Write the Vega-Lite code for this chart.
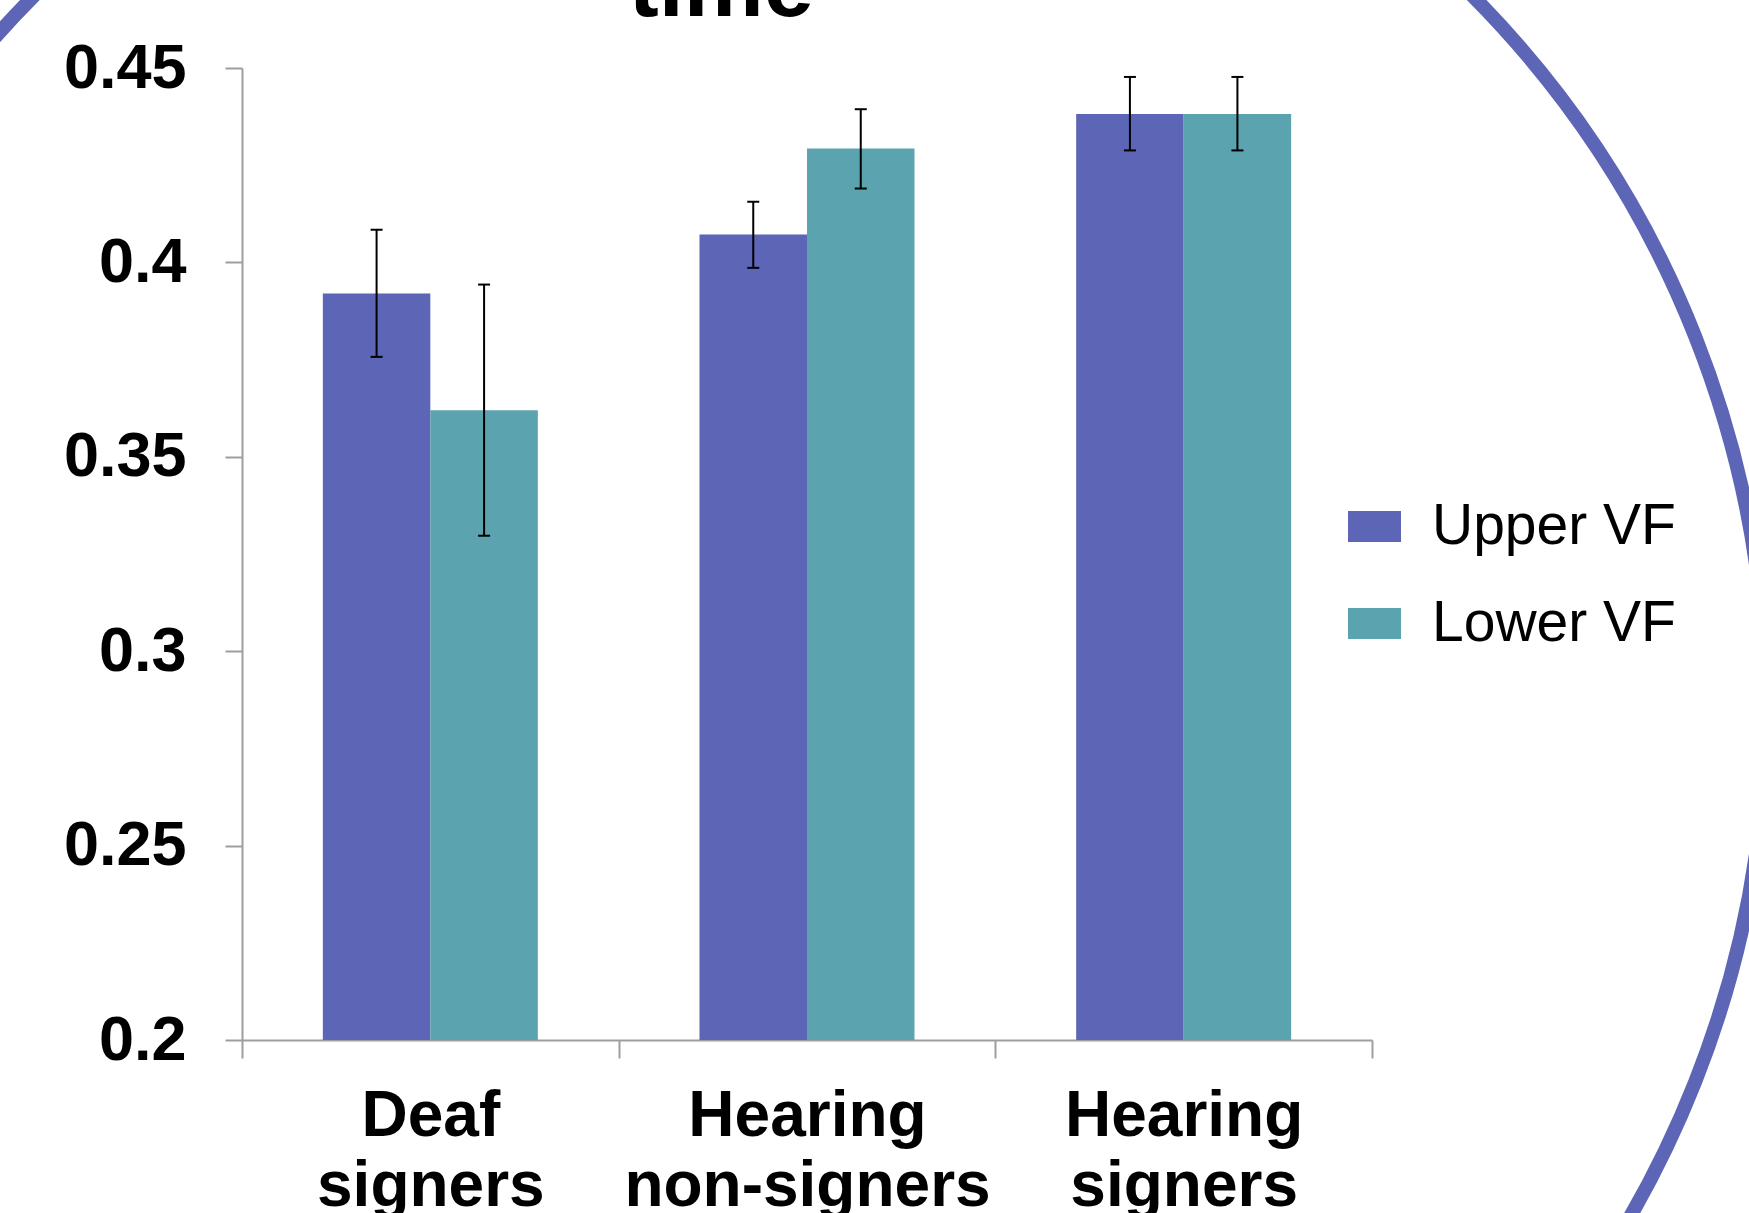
{
  "$schema": "https://vega.github.io/schema/vega-lite/v6.json",
  "autosize": "none",
  "width": 1130,
  "height": 972,
  "padding": {"left": 242, "top": 68, "right": 377, "bottom": 173},
  "background": "white",
  "config": {
    "view": {"stroke": null},
    "font": "Liberation Sans"
  },
  "layer": [
    {
      "data": {"values": [{"group": "Hearing non-signers", "vf": "Upper VF", "value": 0.2851}]},
      "mark": {"type": "point", "shape": "circle", "filled": false, "stroke": "#5C65B6", "strokeWidth": 14, "size": 4104676, "opacity": 1},
      "encoding": {
        "x": {"field": "group", "type": "nominal", "sort": null},
        "xOffset": {"field": "vf", "type": "nominal", "sort": null},
        "y": {"field": "value", "type": "quantitative"}
      }
    },
    {
      "data": {"name": "bars", "values": [
        {"group": "Deaf signers", "vf": "Upper VF", "value": 0.392, "lo": 0.3757, "hi": 0.4084},
        {"group": "Deaf signers", "vf": "Lower VF", "value": 0.362, "lo": 0.3297, "hi": 0.3943},
        {"group": "Hearing non-signers", "vf": "Upper VF", "value": 0.4072, "lo": 0.3986, "hi": 0.4156},
        {"group": "Hearing non-signers", "vf": "Lower VF", "value": 0.4293, "lo": 0.419, "hi": 0.4394},
        {"group": "Hearing signers", "vf": "Upper VF", "value": 0.4382, "lo": 0.4288, "hi": 0.4477},
        {"group": "Hearing signers", "vf": "Lower VF", "value": 0.4382, "lo": 0.4288, "hi": 0.4477}
      ]},
      "layer": [
        {
          "mark": {"type": "bar"},
          "encoding": {
            "x": {
              "field": "group", "type": "nominal", "sort": null,
              "scale": {"domain": ["Deaf signers", "Hearing non-signers", "Hearing signers"], "paddingInner": 0, "paddingOuter": 0},
              "axis": {
                "title": null, "labelAngle": 0, "tickBand": "extent", "labelAlign": "center",
                "domainColor": "#9e9e9e", "domainWidth": 2, "tickColor": "#9e9e9e", "tickWidth": 2, "tickSize": 18,
                "labelFont": "Liberation Sans", "labelFontWeight": "bold", "labelFontSize": 64, "labelColor": "black",
                "labelPadding": 58, "labelLineHeight": 70, "labelLimit": 0, "labelExpr": "split(datum.label, ' ')"
              }
            },
            "xOffset": {"field": "vf", "type": "nominal", "sort": null, "scale": {"domain": ["Upper VF", "Lower VF"], "paddingInner": 0, "paddingOuter": 0.752}},
            "y": {
              "field": "value", "type": "quantitative",
              "scale": {"domain": [0.2, 0.45], "zero": false, "nice": false},
              "axis": {
                "title": null, "values": [0.2, 0.25, 0.3, 0.35, 0.4, 0.45], "format": ".2~f", "grid": false,
                "domainColor": "#9e9e9e", "domainWidth": 2, "tickColor": "#9e9e9e", "tickWidth": 2, "tickSize": 17,
                "labelFont": "Liberation Sans", "labelFontWeight": "bold", "labelFontSize": 63, "labelColor": "black",
                "labelPadding": 39, "labelLimit": 0
              }
            },
            "y2": {"datum": 0.2},
            "color": {
              "field": "vf", "type": "nominal",
              "scale": {"domain": ["Upper VF", "Lower VF"], "range": ["#5C65B6", "#5BA3AF"]},
              "legend": {
                "title": null, "orient": "none", "legendX": 1104, "legendY": 430,
                "symbolType": "M-1,-0.585H1V0.585H-1Z", "symbolSize": 2809, "symbolStrokeWidth": 0, "symbolOpacity": 1,
                "labelFont": "Liberation Sans", "labelFontSize": 57, "labelColor": "black", "labelOffset": 29, "rowPadding": 39, "labelLimit": 0
              }
            }
          }
        },
        {
          "mark": {"type": "rule", "color": "black", "strokeWidth": 2},
          "encoding": {
            "x": {"field": "group", "type": "nominal", "sort": null},
            "xOffset": {"field": "vf", "type": "nominal", "sort": null},
            "y": {"field": "lo", "type": "quantitative"},
            "y2": {"field": "hi"}
          }
        },
        {
          "mark": {"type": "tick", "color": "black", "thickness": 2, "size": 12, "orient": "horizontal", "opacity": 1},
          "encoding": {
            "x": {"field": "group", "type": "nominal", "sort": null},
            "xOffset": {"field": "vf", "type": "nominal", "sort": null},
            "y": {"field": "lo", "type": "quantitative"}
          }
        },
        {
          "mark": {"type": "tick", "color": "black", "thickness": 2, "size": 12, "orient": "horizontal", "opacity": 1},
          "encoding": {
            "x": {"field": "group", "type": "nominal", "sort": null},
            "xOffset": {"field": "vf", "type": "nominal", "sort": null},
            "y": {"field": "hi", "type": "quantitative"}
          }
        }
      ]
    },
    {
      "data": {"values": [{"group": "Hearing non-signers", "vf": "Upper VF", "value": 0.4635, "label": "time"}]},
      "mark": {"type": "text", "font": "Liberation Sans", "fontWeight": "bold", "fontSize": 90, "baseline": "alphabetic", "align": "center", "dx": -32, "color": "black"},
      "encoding": {
        "x": {"field": "group", "type": "nominal", "sort": null},
        "xOffset": {"field": "vf", "type": "nominal", "sort": null},
        "y": {"field": "value", "type": "quantitative"},
        "text": {"field": "label"}
      }
    }
  ]
}
